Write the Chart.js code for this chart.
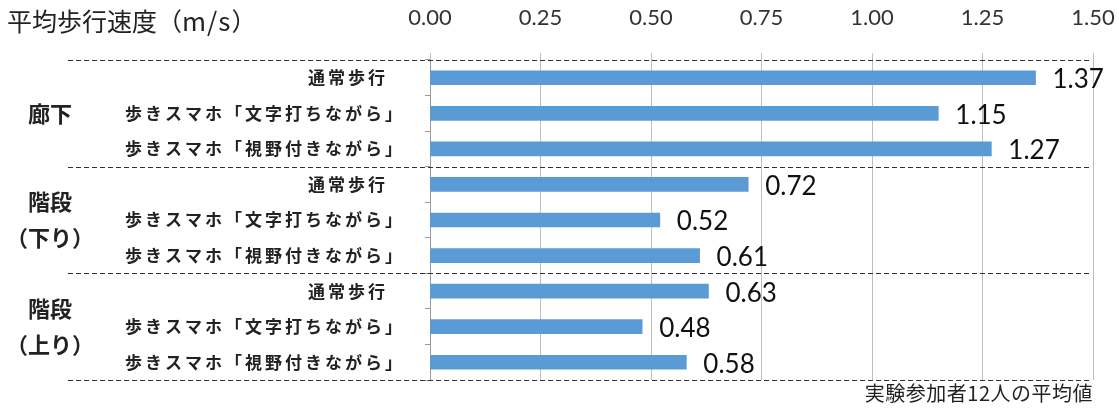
<!DOCTYPE html>
<html lang="ja">
<head>
<meta charset="utf-8">
<script src="https://cdn.jsdelivr.net/npm/chart.js@4"></script>
<style>
  html, body { margin: 0; padding: 0; background: #fff; }
  #wrap { position: relative; width: 1119px; height: 410px; }
  #title { position: absolute; left: 7px; top: 1px; font: 25px 'Noto Sans CJK JP', sans-serif; color: #222; }
  #title span { letter-spacing: 1px; font-size: 26px; }
  #note { position: absolute; right: 26px; top: 378px; font: 20px 'Noto Sans CJK JP', sans-serif; color: #222; letter-spacing: 0.5px; }
</style>
</head>
<body>
<div id="wrap">
  <canvas id="chart"></canvas>
  <div id="title">平均歩行速度（<span>m/s</span>）</div>
  <div id="note">実験参加者12人の平均値</div>
</div>
<script>
const categories = [
  '通常歩行', '歩きスマホ「文字打ちながら」', '歩きスマホ「視野付きながら」',
  '通常歩行', '歩きスマホ「文字打ちながら」', '歩きスマホ「視野付きながら」',
  '通常歩行', '歩きスマホ「文字打ちながら」', '歩きスマホ「視野付きながら」',
];
const speeds = [1.37, 1.15, 1.27, 0.72, 0.52, 0.61, 0.63, 0.48, 0.58];
const groups = [['廊下'], ['階段', '（下り）'], ['階段', '（上り）']];
const xTicks = [0, 0.25, 0.5, 0.75, 1.0, 1.25, 1.5];

const JP = "'Noto Sans CJK JP', sans-serif";

// labels, group names, dashed separators, value labels
const decorations = {
  id: 'decorations',
  afterDraw(chart) {
    const { ctx, chartArea: area } = chart;
    const y = chart.scales.y;
    const x = chart.scales.x;
    const band = (y.getPixelForValue(1) - y.getPixelForValue(0));

    ctx.save();
    // dashed separators
    ctx.strokeStyle = '#333';
    ctx.lineWidth = 1;
    ctx.setLineDash([5, 3]);
    for (let g = 0; g <= groups.length; g++) {
      const yy = Math.round(y.getPixelForValue(g * 3) - band / 2) + 0.5;
      ctx.beginPath();
      ctx.moveTo(68, yy);
      ctx.lineTo(area.right - 4, yy);
      ctx.stroke();
    }
    ctx.setLineDash([]);

    // category labels
    ctx.fillStyle = '#222';
    ctx.textAlign = 'right';
    ctx.textBaseline = 'middle';
    ctx.font = 'bold 17px ' + JP;
    ctx.letterSpacing = '3px';
    categories.forEach((c, i) => {
      const right = c === '通常歩行' ? 388 : 405;
      ctx.fillText(c, right, y.getPixelForValue(i));
    });

    // group labels
    ctx.font = 'bold 22px ' + JP;
    ctx.textAlign = 'center';
    ctx.letterSpacing = '0px';
    groups.forEach((lines, g) => {
      const mid = y.getPixelForValue(g * 3 + 1);
      const lh = 36;
      lines.forEach((t, k) => {
        const off = (k - (lines.length - 1) / 2) * lh;
        ctx.fillText(t, 50, mid + off);
      });
    });

    // value labels
    ctx.font = '26px Lato, sans-serif';
    ctx.textAlign = 'left';
    ctx.fillStyle = '#111';
    speeds.forEach((v, i) => {
      ctx.fillText(v.toFixed(2), x.getPixelForValue(v) + 17, y.getPixelForValue(i) + 2);
    });
    ctx.restore();
  }
};

new Chart(document.getElementById('chart'), {
  type: 'bar',
  data: {
    labels: categories,
    datasets: [{
      data: speeds,
      backgroundColor: '#5B9BD5',
      barThickness: 14,
    }],
  },
  options: {
    indexAxis: 'y',
    responsive: true,
    maintainAspectRatio: false,
    animation: false,
    layout: { padding: { left: 0, right: 26, top: 0, bottom: 30 } },
    plugins: { legend: { display: false }, tooltip: { enabled: false } },
    scales: {
      x: {
        position: 'top',
        min: xTicks[0],
        max: xTicks[xTicks.length - 1],
        afterFit: (s) => { s.height = 60; s.paddingLeft = 0; s.paddingRight = 0; },
        afterBuildTicks: (s) => { s.ticks = xTicks.map((v) => ({ value: v })); },
        ticks: {
          padding: 22,
          color: '#333',
          font: { family: 'Lato, sans-serif', size: 22 },
          callback: (v) => Number(v).toFixed(2),
        },
        grid: { color: '#bfbfbf', tickLength: 7 },
        border: { display: false },
      },
      y: {
        afterFit: (s) => { s.width = 430; },
        ticks: { display: false },
        grid: { drawOnChartArea: false, color: '#999', tickLength: 5 },
        border: { display: true, color: '#999' },
      },
    },
  },
  plugins: [decorations],
});
</script>
</body>
</html>
